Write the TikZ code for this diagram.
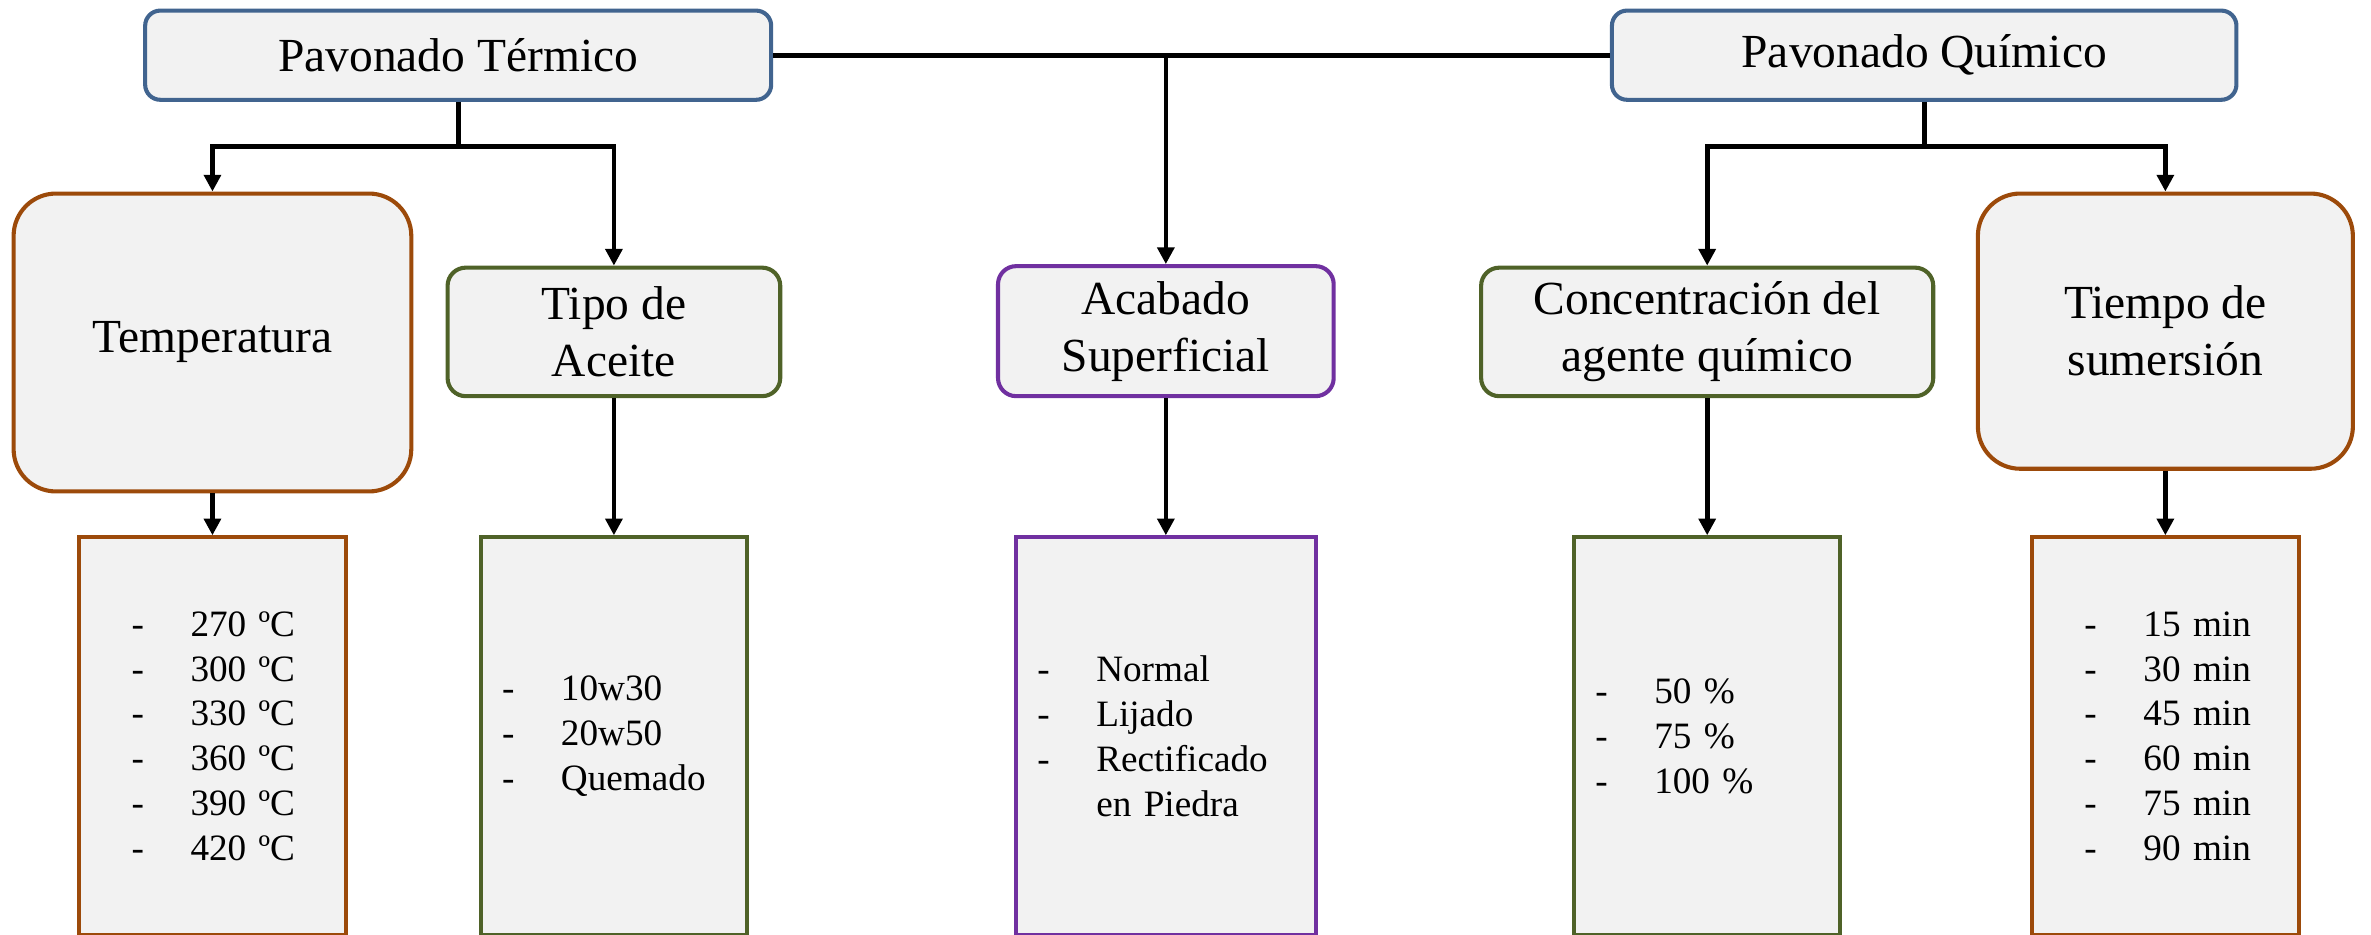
\documentclass[tikz,border=0pt]{standalone}
\usepackage{fontspec}
\setmainfont{Liberation Serif}
\usetikzlibrary{arrows.meta}
\definecolor{bblue}{HTML}{41648F}
\definecolor{borange}{HTML}{9C4A0A}
\definecolor{bgreen}{HTML}{4F6228}
\definecolor{bpurple}{HTML}{7030A0}
\definecolor{bfill}{HTML}{F2F2F2}
\newcommand{\myitem}[2]{\hspace*{#1pt}\makebox[39pt][l]{-}#2}
\tikzset{
  hbox/.style={draw, fill=bfill, line width=2.7pt, rounded corners=#1, align=center,
    font=\fontsize{31.4}{37.7}\selectfont, inner sep=0pt},
  lbox/.style={draw, fill=bfill, line width=2.7pt, align=left, anchor=north,
    font=\fontsize{24.6}{29.6}\selectfont, minimum height=263pt, inner sep=0pt},
  conn/.style={line width=3.1pt, black},
  arr/.style={conn, -{Triangle[length=11pt,width=11pt]}}
}
\begin{document}
\begin{tikzpicture}[x=1pt,y=-1pt]
\useasboundingbox (0,0) rectangle (1568,618);
% top level
\node[hbox=10pt, draw=bblue, minimum width=414pt, minimum height=59pt] (pt) at (303,36.5) {Pavonado Térmico};
\node[hbox=10pt, draw=bblue, minimum width=413pt, minimum height=59pt] (pq) at (1272.5,36.5) {Pavonado Químico};
% second level
\node[hbox=28pt, draw=borange, minimum width=263pt, minimum height=197pt] (temp) at (140.5,226.5) {Temperatura};
\node[hbox=12pt, draw=bgreen, minimum width=220pt, minimum height=85pt] (aceite) at (406,219.5) {Tipo de\\Aceite};
\node[hbox=12pt, draw=bpurple, minimum width=222pt, minimum height=86pt] (acab) at (771,219) {Acabado\\Superficial};
\node[hbox=12pt, draw=bgreen, minimum width=299pt, minimum height=85pt] (conc) at (1129,219.5) {Concentración del\\agente químico};
\node[hbox=28pt, draw=borange, minimum width=248pt, minimum height=182pt] (tiempo) at (1432,219) {Tiempo de\\sumersión};
% lists
\node[lbox, draw=borange, text width=177pt] (tl) at (140.5,354) {\myitem{35}{270 ºC}\\\myitem{35}{300 ºC}\\\myitem{35}{330 ºC}\\\myitem{35}{360 ºC}\\\myitem{35}{390 ºC}\\\myitem{35}{420 ºC}};
\node[lbox, draw=bgreen, text width=176pt] (al) at (406,354) {\myitem{14}{10w30}\\\myitem{14}{20w50}\\\myitem{14}{Quemado}};
\node[lbox, draw=bpurple, text width=198pt] (bl) at (771,354) {\myitem{14}{Normal}\\\myitem{14}{Lijado}\\\myitem{14}{Rectificado}\\\hspace*{53pt}en Piedra};
\node[lbox, draw=bgreen, text width=176pt] (cl) at (1129,354) {\myitem{14}{50 \%}\\\myitem{14}{75 \%}\\\myitem{14}{100 \%}};
\node[lbox, draw=borange, text width=177pt] (dl) at (1432,354) {\myitem{35}{15 min}\\\myitem{35}{30 min}\\\myitem{35}{45 min}\\\myitem{35}{60 min}\\\myitem{35}{75 min}\\\myitem{35}{90 min}};
% connectors
\coordinate (ptj) at (303,97);
\coordinate (pqj) at (1272.5,97);
\draw[conn] (pt.east) -- (pq.west);
\draw[arr] (pt.east -| acab.north) -- (acab.north);
\draw[conn] (pt.south) -- (ptj);
\draw[arr] (ptj) -| (temp.north);
\draw[arr] (ptj) -| (aceite.north);
\draw[conn] (pq.south) -- (pqj);
\draw[arr] (pqj) -| (conc.north);
\draw[arr] (pqj) -| (tiempo.north);
\draw[arr] (temp.south) -- (tl.north);
\draw[arr] (aceite.south) -- (al.north);
\draw[arr] (acab.south) -- (bl.north);
\draw[arr] (conc.south) -- (cl.north);
\draw[arr] (tiempo.south) -- (dl.north);
\end{tikzpicture}
\end{document}
